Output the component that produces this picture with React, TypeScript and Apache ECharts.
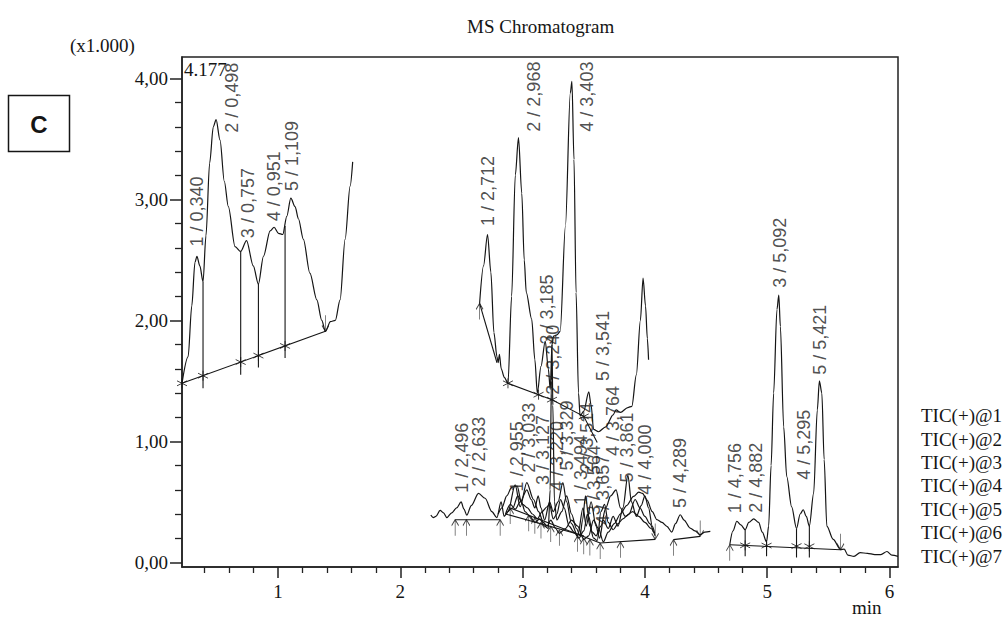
import React, { useEffect, useRef } from "react";
import * as echarts from "echarts";

const SERIF = "Liberation Serif";
const SANS = "Liberation Sans";

const xTickValues = [1, 2, 3, 4, 5, 6];
const xMinorTickValues = [0.4, 0.6, 0.8, 1.2, 1.4, 1.6, 1.8, 2.2, 2.4, 2.6, 2.8, 3.2, 3.4, 3.6, 3.8, 4.2, 4.4, 4.6, 4.8, 5.2, 5.4, 5.6, 5.8];
const yTickValues = [0, 1, 2, 3, 4];
const yMinorTickValues = [0.2, 0.4, 0.6, 0.8, 1.2, 1.4, 1.6, 1.8, 2.2, 2.4, 2.6, 2.8, 3.2, 3.4, 3.6, 3.8];

const legendNames = ["TIC(+)@1", "TIC(+)@2", "TIC(+)@3", "TIC(+)@4", "TIC(+)@5", "TIC(+)@6", "TIC(+)@7"];

// TIC(+)@1 : early segment
const tic1 = [
  [0.214, 1.48], [0.264, 1.7], [0.294, 2.12], [0.32, 2.48], [0.336, 2.53], [0.36, 2.45], [0.386, 2.32],
  [0.41, 2.7], [0.44, 3.3], [0.47, 3.6], [0.493, 3.66], [0.525, 3.49], [0.56, 3.15], [0.593, 2.94],
  [0.648, 2.61], [0.694, 2.57], [0.742, 2.66], [0.797, 2.45], [0.839, 2.3], [0.88, 2.53], [0.935, 2.74],
  [0.967, 2.77], [1.003, 2.72], [1.038, 2.71], [1.071, 2.86], [1.104, 3.01], [1.139, 2.94], [1.166, 2.84],
  [1.207, 2.67], [1.26, 2.39], [1.317, 2.17], [1.357, 2.0], [1.387, 1.91], [1.428, 1.99], [1.468, 2.0],
  [1.507, 2.17], [1.548, 2.67], [1.589, 3.11], [1.61, 3.31],
];

// TIC(+)@2 : upper middle segment
const tic2 = [
  [2.648, 2.14], [2.68, 2.45], [2.713, 2.71], [2.74, 2.4], [2.765, 1.9], [2.79, 1.7], [2.8, 1.65],
  [2.81, 1.72], [2.825, 1.6], [2.85, 1.53], [2.88, 1.48], [2.91, 2.2], [2.94, 3.2], [2.966, 3.51],
  [2.993, 3.05], [3.013, 2.5], [3.03, 2.23], [3.074, 2.01], [3.1, 1.675], [3.12, 1.4], [3.15, 1.62],
  [3.185, 1.83], [3.21, 1.6], [3.226, 1.43], [3.24, 1.8], [3.253, 1.87], [3.28, 1.88], [3.307, 1.91],
  [3.35, 2.78], [3.39, 3.88], [3.403, 3.975], [3.42, 3.33], [3.437, 2.23], [3.457, 1.4], [3.47, 1.21],
  [3.5, 1.25], [3.541, 1.41], [3.56, 1.3], [3.58, 1.1], [3.62, 1.08], [3.68, 1.12], [3.74, 1.22],
  [3.764, 1.26], [3.8, 1.24], [3.86, 1.28], [3.893, 1.29], [3.93, 1.55], [3.963, 2.0], [3.985, 2.35],
  [4.005, 2.12], [4.02, 1.85], [4.03, 1.675],
];

// TIC(+)@3 : low trace, 2.25 – 4.54 min
const tic3 = [
  [2.249, 0.39], [2.27, 0.37], [2.29, 0.38], [2.325, 0.43], [2.353, 0.41], [2.38, 0.37], [2.42, 0.41],
  [2.46, 0.45], [2.497, 0.5], [2.52, 0.44], [2.543, 0.39], [2.58, 0.47], [2.639, 0.57], [2.693, 0.53],
  [2.748, 0.42], [2.789, 0.37], [2.824, 0.5], [2.849, 0.38], [2.88, 0.42], [2.939, 0.64], [2.98, 0.46],
  [3.034, 0.66], [3.089, 0.52], [3.13, 0.42], [3.17, 0.33], [3.2, 0.3], [3.23, 0.35], [3.27, 0.28],
  [3.3, 0.24], [3.35, 0.28], [3.4, 0.35], [3.45, 0.3], [3.5, 0.19], [3.54, 0.22], [3.58, 0.35],
  [3.62, 0.28], [3.66, 0.17], [3.7, 0.25], [3.75, 0.32], [3.8, 0.4], [3.85, 0.47], [3.907, 0.546],
  [3.95, 0.58], [3.98, 0.57], [4.016, 0.518], [4.06, 0.42], [4.098, 0.353], [4.14, 0.33], [4.18, 0.298],
  [4.22, 0.25], [4.25, 0.32], [4.289, 0.394], [4.32, 0.35], [4.37, 0.284], [4.41, 0.26], [4.452, 0.229],
  [4.49, 0.25], [4.535, 0.256],
];

// TIC(+)@4
const tic4 = [
  [2.8, 0.4], [2.83, 0.45], [2.87, 0.55], [2.91, 0.62], [2.955, 0.63], [2.99, 0.5], [3.02, 0.42],
  [3.06, 0.38], [3.1, 0.33], [3.14, 0.36], [3.18, 0.3], [3.21, 0.28], [3.225, 0.6], [3.235, 1.5],
  [3.24, 1.8], [3.247, 1.3], [3.26, 0.5], [3.28, 0.35], [3.32, 0.42], [3.36, 0.55], [3.4, 0.4],
  [3.44, 0.28], [3.47, 0.22], [3.49, 0.35], [3.514, 0.55], [3.54, 0.38], [3.57, 0.25], [3.6, 0.22],
  [3.64, 0.3], [3.68, 0.45], [3.72, 0.55], [3.764, 0.6], [3.8, 0.45], [3.84, 0.38], [3.9, 0.42],
  [3.95, 0.38], [4.0, 0.33], [4.05, 0.28], [4.084, 0.22],
];

// TIC(+)@5
const tic5 = [
  [2.86, 0.4], [2.9, 0.48], [2.94, 0.44], [2.98, 0.5], [3.034, 0.6], [3.07, 0.52], [3.1, 0.45],
  [3.127, 0.55], [3.15, 0.45], [3.18, 0.35], [3.22, 0.5], [3.25, 0.42], [3.29, 0.5], [3.329, 0.66],
  [3.36, 0.5], [3.4, 0.32], [3.45, 0.22], [3.494, 0.45], [3.52, 0.3], [3.56, 0.5], [3.6, 0.3],
  [3.63, 0.2], [3.66, 0.35], [3.7, 0.28], [3.74, 0.38], [3.78, 0.3], [3.82, 0.45], [3.861, 0.72],
  [3.89, 0.5], [3.93, 0.38], [3.97, 0.47], [4.0, 0.55], [4.03, 0.45], [4.06, 0.3], [4.08, 0.24],
];

// TIC(+)@6
const tic6 = [
  [2.88, 0.42], [2.92, 0.45], [2.96, 0.55], [3.0, 0.48], [3.04, 0.45], [3.08, 0.4], [3.12, 0.36],
  [3.16, 0.42], [3.2, 0.46], [3.22, 0.48], [3.25, 0.36], [3.28, 0.4], [3.31, 0.52], [3.34, 0.45],
  [3.38, 0.3], [3.42, 0.25], [3.46, 0.2], [3.5, 0.26], [3.53, 0.4], [3.55, 0.3], [3.58, 0.2],
  [3.61, 0.18], [3.64, 0.42], [3.67, 0.48], [3.7, 0.33], [3.74, 0.27], [3.78, 0.32], [3.82, 0.36],
  [3.87, 0.4], [3.92, 0.52], [3.96, 0.45], [4.0, 0.38], [4.04, 0.32], [4.07, 0.25],
];

// TIC(+)@7 : late segment
const tic7 = [
  [4.694, 0.146], [4.72, 0.26], [4.752, 0.34], [4.785, 0.31], [4.82, 0.27], [4.85, 0.33], [4.89, 0.36],
  [4.93, 0.33], [4.96, 0.25], [4.995, 0.17], [5.012, 0.3], [5.032, 0.8], [5.053, 1.4], [5.08, 2.09],
  [5.095, 2.21], [5.108, 1.95], [5.135, 1.12], [5.16, 0.71], [5.2, 0.46], [5.24, 0.28], [5.27, 0.4],
  [5.295, 0.435], [5.32, 0.38], [5.345, 0.3], [5.38, 0.57], [5.41, 1.26], [5.427, 1.5], [5.447, 1.4],
  [5.466, 0.85], [5.488, 0.3], [5.54, 0.19], [5.6, 0.105], [5.63, 0.11], [5.66, 0.06], [5.71, 0.05],
  [5.76, 0.08], [5.82, 0.075], [5.88, 0.065], [5.93, 0.064], [5.98, 0.09], [6.02, 0.06], [6.07, 0.05],
];

const traces = [tic1, tic2, tic3, tic4, tic5, tic6, tic7];

// integration baselines
const baselines = [
  [[0.214, 1.48], [1.387, 1.91]],
  [[2.648, 2.14], [2.79, 1.65]],
  [[2.88, 1.48], [3.13, 1.386], [3.24, 1.345], [3.5, 1.207], [3.61, 0.99]],
  [[2.448, 0.353], [2.816, 0.353]],
  [[2.898, 0.45], [3.634, 0.16]],
  [[2.86, 0.4], [3.5, 0.22]],
  [[3.634, 0.16], [4.084, 0.19]],
  [[4.234, 0.188], [4.452, 0.215]],
  [[4.694, 0.146], [5.6, 0.105]],
];

// peak boundary drop lines [x, top, bottom]
const dropX = [0.386, 0.694, 0.839, 1.057, 4.82, 4.995, 5.24, 5.345];
const dropTop = [2.32, 2.57, 2.3, 2.78, 0.27, 0.17, 0.28, 0.3];
const dropBottom = [1.44, 1.55, 1.61, 1.69, 0.05, 0.05, 0.04, 0.04];

// baseline markers
const starMarks = [
  [0.214, 1.48], [0.386, 1.543], [0.694, 1.656], [0.839, 1.709], [1.057, 1.789],
  [2.88, 1.48], [3.13, 1.386], [3.24, 1.345], [3.5, 1.207],
  [4.82, 0.141], [4.995, 0.139], [5.24, 0.135], [5.345, 0.133],
];
const upArrowMarks = [
  [2.648, 2.14], [2.448, 0.353], [2.54, 0.353], [2.816, 0.353], [2.898, 0.45], [3.05, 0.39],
  [3.1, 0.37], [3.15, 0.33], [3.23, 0.3], [3.3, 0.27], [3.45, 0.22], [3.5, 0.2], [3.55, 0.19],
  [3.634, 0.16], [3.8, 0.17], [4.234, 0.188], [4.694, 0.146],
];
const downArrowMarks = [[1.387, 1.91], [4.084, 0.19], [4.452, 0.215], [5.6, 0.105]];

// peak labels (retention time labels) and their anchors
const peakLabels = [
  "1 / 0,340", "2 / 0,498", "3 / 0,757", "4 / 0,951", "5 / 1,109",
  "1 / 2,712", "2 / 2,968", "3 / 3,185", "2 / 3,240", "4 / 3,403", "5 / 3,541", "4 / 3,764", "5 / 3,861",
  "1 / 2,496", "2 / 2,633", "1 / 2,955", "2 / 3,033", "3 / 3,127", "4 / 3,220", "5 / 3,329",
  "1 / 3,494", "2 / 3,514", "3 / 3,564", "4 / 3,657", "4 / 4,000", "5 / 4,289",
  "1 / 4,756", "2 / 4,882", "3 / 5,092", "4 / 5,295", "5 / 5,421",
];
const peakLabelX = [
  0.336, 0.624, 0.757, 0.967, 1.112,
  2.713, 3.09, 3.197, 3.25, 3.526, 3.66, 3.74, 3.856,
  2.5, 2.64, 2.953, 3.048, 3.17, 3.28, 3.36,
  3.48, 3.526, 3.58, 3.66, 4.003, 4.29,
  4.74, 4.905, 5.102, 5.305, 5.435,
];
const peakLabelY = [
  2.61, 3.55, 2.68, 2.82, 3.07,
  2.78, 3.56, 1.8, 1.385, 3.56, 1.5, 0.88, 0.66,
  0.575, 0.625, 0.587, 0.74, 0.64, 0.59, 0.76,
  0.475, 0.74, 0.39, 0.31, 0.56, 0.45,
  0.407, 0.41, 2.27, 0.683, 1.55,
];

const INK = "#151515";

export default function App() {
  const ref = useRef<HTMLDivElement>(null);

  useEffect(() => {
    document.body.style.margin = "0";
    if (!ref.current) return;
    const chart = echarts.init(ref.current, undefined, { renderer: "svg" });

    const lineSeries = traces.map((d, i) => ({
      type: "line",
      name: legendNames[i],
      data: d,
      xAxisIndex: 0,
      yAxisIndex: 0,
      symbol: "none",
      showSymbol: false,
      smooth: 0.3,
      smoothMonotone: "x",
      silent: true,
      lineStyle: { color: INK, width: 1.2 },
      itemStyle: { color: INK },
      z: 3,
    }));

    const dropLines = dropX.map((x, i) => ({ coords: [[x, dropTop[i]], [x, dropBottom[i]]] }));

    const option = {
      animation: false,
      backgroundColor: "#ffffff",
      title: {
        text: "MS Chromatogram",
        left: 462,
        top: 12,
        textStyle: { fontFamily: SERIF, fontSize: 19, fontWeight: "normal", color: INK },
      },
      legend: {
        data: legendNames,
        orient: "vertical",
        left: 910,
        top: 399,
        itemWidth: 0,
        itemHeight: 0,
        itemGap: 0,
        selectedMode: false,
        textStyle: { fontFamily: SERIF, fontSize: 19, color: INK, lineHeight: 23.4 },
      },
      grid: {
        left: 182,
        top: 57,
        right: 109,
        bottom: 57,
        show: true,
        borderColor: "#222",
        borderWidth: 1.5,
        backgroundColor: "transparent",
      },
      xAxis: [
        {
          type: "value",
          min: 0.214,
          max: 6.07,
          position: "bottom",
          axisLine: { show: true, onZero: false, lineStyle: { color: "#222", width: 1.5 } },
          axisTick: { show: true, customValues: xTickValues, length: 11, lineStyle: { color: "#222", width: 1.5 } },
          axisLabel: {
            customValues: xTickValues,
            formatter: (v: number) => String(v),
            fontFamily: SERIF,
            fontSize: 19,
            color: INK,
            margin: 15,
          },
          splitLine: { show: false },
        },
        {
          type: "value",
          min: 0.214,
          max: 6.07,
          position: "bottom",
          axisLine: { show: false, onZero: false },
          axisTick: { show: true, customValues: xMinorTickValues, length: 6, lineStyle: { color: "#222", width: 1.3 } },
          axisLabel: { show: false },
          splitLine: { show: false },
        },
      ],
      yAxis: [
        {
          type: "value",
          min: -0.038,
          max: 4.177,
          position: "left",
          axisLine: { show: true, onZero: false, lineStyle: { color: "#222", width: 1.5 } },
          axisTick: { show: true, customValues: yTickValues, length: 12, lineStyle: { color: "#222", width: 1.5 } },
          axisLabel: {
            customValues: yTickValues,
            formatter: (v: number) => v.toFixed(2).replace(".", ","),
            fontFamily: SERIF,
            fontSize: 19,
            color: INK,
            margin: 14,
          },
          splitLine: { show: false },
        },
        {
          type: "value",
          min: -0.038,
          max: 4.177,
          position: "left",
          axisLine: { show: false, onZero: false },
          axisTick: { show: true, customValues: yMinorTickValues, length: 7, lineStyle: { color: "#222", width: 1.3 } },
          axisLabel: { show: false },
          splitLine: { show: false },
        },
      ],
      series: [
        ...lineSeries,
        {
          type: "lines",
          coordinateSystem: "cartesian2d",
          polyline: true,
          silent: true,
          data: baselines.map((c) => ({ coords: c })),
          lineStyle: { color: INK, width: 1.1, opacity: 1 },
          z: 2,
        },
        {
          type: "lines",
          coordinateSystem: "cartesian2d",
          polyline: true,
          silent: true,
          data: dropLines,
          lineStyle: { color: INK, width: 1.1, opacity: 1 },
          z: 2,
        },
        {
          type: "scatter",
          silent: true,
          data: starMarks,
          symbol: "path://M5,0 L5,10 M0,2.5 L10,7.5 M0,7.5 L10,2.5",
          symbolSize: 10,
          itemStyle: { color: "transparent", borderColor: INK, borderWidth: 1 },
          z: 4,
        },
        {
          type: "scatter",
          silent: true,
          data: upArrowMarks,
          symbol: "path://M4,0 L4,16 M4,0 L0.5,6 M4,0 L7.5,6",
          symbolSize: [7, 16],
          symbolOffset: [0, 8],
          itemStyle: { color: "transparent", borderColor: INK, borderWidth: 1 },
          z: 4,
        },
        {
          type: "scatter",
          silent: true,
          data: downArrowMarks,
          symbol: "path://M4,0 L4,16 M4,16 L0.5,10 M4,16 L7.5,10",
          symbolSize: [7, 16],
          symbolOffset: [0, -8],
          itemStyle: { color: "transparent", borderColor: INK, borderWidth: 1 },
          z: 4,
        },
        {
          type: "scatter",
          silent: true,
          data: peakLabels.map((t, i) => ({ name: t, value: [peakLabelX[i], peakLabelY[i]] })),
          symbolSize: 1,
          itemStyle: { color: "transparent" },
          label: {
            show: true,
            formatter: "{b}",
            position: "inside",
            rotate: 90,
            align: "left",
            verticalAlign: "middle",
            fontFamily: SANS,
            fontSize: 18,
            color: "#222",
          },
          z: 5,
        },
      ],
      graphic: [
        {
          type: "text",
          left: 70,
          top: 36,
          style: { text: "(x1.000)", font: `19px "${SERIF}"`, fill: INK },
        },
        {
          type: "text",
          left: 184,
          top: 60,
          style: { text: "4.177", font: `19px "${SERIF}"`, fill: INK },
          z: 10,
        },
        {
          type: "text",
          left: 852,
          top: 598,
          style: { text: "min", font: `19px "${SERIF}"`, fill: INK },
        },
        {
          type: "rect",
          shape: { x: 8.5, y: 95.5, width: 61, height: 56 },
          style: { fill: "#fff", stroke: INK, lineWidth: 1.5 },
        },
        {
          type: "text",
          x: 39,
          y: 124,
          style: {
            text: "C",
            font: `bold 24px "${SANS}"`,
            fill: INK,
            textAlign: "center",
            textVerticalAlign: "middle",
          },
        },
      ],
    };

    chart.setOption(option as any);
    return () => chart.dispose();
  }, []);

  return <div ref={ref} style={{ width: 1007, height: 624 }} />;
}
